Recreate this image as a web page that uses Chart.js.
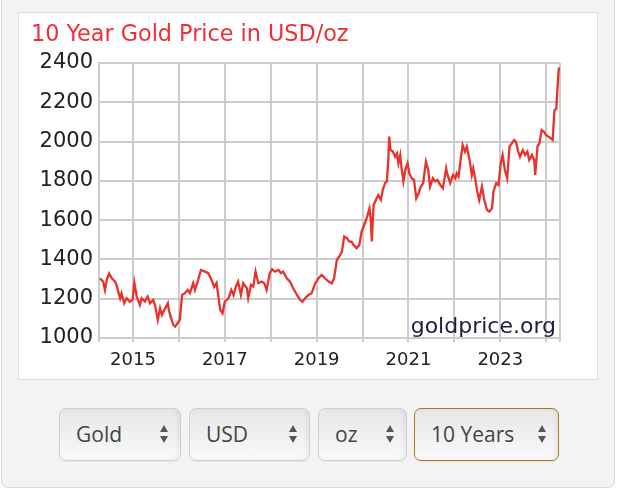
<!DOCTYPE html>
<html>
<head>
<meta charset="utf-8">
<script src="https://cdn.jsdelivr.net/npm/chart.js@4.4.1/dist/chart.umd.min.js"></script>
<style>
  html, body { margin: 0; padding: 0; background: #fff; width: 638px; height: 499px; overflow: hidden; }
  #outer { position: absolute; left: 1px; top: -6px; width: 612px; height: 492px; background: #f3f3f3;
           border: 1px solid #dcdcdc; border-radius: 0 0 6px 6px; }
  #panel { position: absolute; left: 18px; top: 12px; width: 578px; height: 366px; background: #fff;
           border: 1px solid #dddddd; }
  #panel canvas { position: absolute; left: 0; top: 0; }
  .sel { position: absolute; top: 408px; height: 53px; box-sizing: border-box; border: 1px solid #d0d0d0;
         border-radius: 7px; background: linear-gradient(to bottom, #e7e7e7, #f9f9f9);
         box-shadow: inset -3px 0 4px rgba(0,0,0,0.05), 0 1px 1px rgba(0,0,0,0.05);
         font: 21px "Open Sans", sans-serif; color: #444; line-height: 50px; padding-left: 16px; }
  .sel::before, .sel::after { content: ""; position: absolute; right: 12px; width: 0; height: 0;
         border-left: 4.5px solid transparent; border-right: 4.5px solid transparent; }
  .sel::before { top: 16px; border-bottom: 7px solid #555; }
  .sel::after { top: 27px; border-top: 7px solid #555; }
  .sel.on { border-color: #a97b1c; }
</style>
</head>
<body>
<div id="outer"></div>
<div id="panel"><canvas id="goldChart" width="578" height="366"></canvas></div>
<div class="sel" style="left:59px;width:122px">Gold</div>
<div class="sel" style="left:189px;width:121px">USD</div>
<div class="sel" style="left:318px;width:89px">oz</div>
<div class="sel on" style="left:414px;width:145px">10 Years</div>
<script>
// decimal years and USD/oz prices
var years = [
  2014.28, 2014.35, 2014.39, 2014.43, 2014.48, 2014.54, 2014.61, 2014.64, 2014.72, 2014.75,
  2014.81, 2014.86, 2014.93, 2014.99, 2015.03, 2015.08, 2015.15, 2015.19, 2015.26, 2015.32,
  2015.37, 2015.44, 2015.48, 2015.54, 2015.59, 2015.63, 2015.70, 2015.76, 2015.78, 2015.83,
  2015.88, 2015.92, 2015.97, 2016.02, 2016.07, 2016.13, 2016.19, 2016.24, 2016.31, 2016.35,
  2016.42, 2016.48, 2016.57, 2016.64, 2016.71, 2016.77, 2016.82, 2016.85, 2016.90, 2016.95,
  2017.00, 2017.08, 2017.14, 2017.19, 2017.24, 2017.29, 2017.35, 2017.40, 2017.48, 2017.51,
  2017.57, 2017.62, 2017.67, 2017.73, 2017.80, 2017.86, 2017.91, 2017.98, 2018.03, 2018.09,
  2018.17, 2018.22, 2018.27, 2018.35, 2018.42, 2018.49, 2018.57, 2018.64, 2018.69, 2018.75,
  2018.82, 2018.89, 2018.97, 2019.04, 2019.11, 2019.18, 2019.26, 2019.33, 2019.38, 2019.44,
  2019.49, 2019.55, 2019.60, 2019.66, 2019.71, 2019.76, 2019.80, 2019.87, 2019.93, 2019.98,
  2020.05, 2020.10, 2020.15, 2020.18, 2020.20, 2020.24, 2020.29, 2020.34, 2020.40, 2020.44,
  2020.49, 2020.53, 2020.56, 2020.58, 2020.61, 2020.66, 2020.71, 2020.75, 2020.78, 2020.82,
  2020.85, 2020.89, 2020.93, 2020.98, 2021.02, 2021.07, 2021.12, 2021.17, 2021.22, 2021.27,
  2021.32, 2021.38, 2021.43, 2021.47, 2021.53, 2021.58, 2021.63, 2021.69, 2021.75, 2021.82,
  2021.85, 2021.91, 2021.97, 2022.02, 2022.05, 2022.09, 2022.14, 2022.18, 2022.23, 2022.27,
  2022.33, 2022.38, 2022.41, 2022.45, 2022.50, 2022.54, 2022.60, 2022.65, 2022.71, 2022.76,
  2022.82, 2022.85, 2022.91, 2022.96, 2023.01, 2023.05, 2023.10, 2023.15, 2023.20, 2023.25,
  2023.30, 2023.34, 2023.39, 2023.43, 2023.49, 2023.54, 2023.59, 2023.63, 2023.69, 2023.74,
  2023.76, 2023.81, 2023.85, 2023.90, 2023.95, 2024.00, 2024.05, 2024.10, 2024.14, 2024.18,
  2024.22, 2024.24, 2024.27, 2024.29
];
var prices = [
  1304, 1287, 1244, 1297, 1329, 1304, 1287, 1270, 1202, 1228,
  1177, 1202, 1185, 1194, 1281, 1211, 1168, 1202, 1185, 1211,
  1177, 1194, 1168, 1092, 1151, 1117, 1151, 1177, 1143, 1100,
  1066, 1058, 1075, 1092, 1219, 1228, 1245, 1228, 1279, 1245,
  1296, 1346, 1338, 1330, 1296, 1260, 1280, 1228, 1143, 1126,
  1185, 1202, 1245, 1219, 1262, 1287, 1219, 1279, 1253, 1202,
  1270, 1262, 1338, 1279, 1287, 1279, 1245, 1330, 1350, 1338,
  1347, 1330, 1338, 1304, 1287, 1253, 1219, 1194, 1185, 1202,
  1219, 1228, 1279, 1304, 1321, 1304, 1287, 1278, 1304, 1397,
  1414, 1440, 1516, 1508, 1491, 1491, 1474, 1457, 1474, 1542,
  1584, 1618, 1660, 1601, 1491, 1677, 1703, 1728, 1703, 1754,
  1788, 1797, 1906, 2025, 1957, 1949, 1923, 1940, 1889, 1932,
  1864, 1797, 1855, 1889, 1838, 1813, 1805, 1711, 1737, 1771,
  1788, 1898, 1855, 1771, 1813, 1797, 1805, 1780, 1762, 1864,
  1830, 1788, 1830, 1813, 1839, 1822, 1915, 1982, 1949, 1974,
  1906, 1830, 1864, 1813, 1745, 1703, 1771, 1703, 1652, 1643,
  1660, 1745, 1788, 1779, 1890, 1932, 1855, 1813, 1974, 1991,
  2008, 2000, 1949, 1923, 1957, 1932, 1949, 1906, 1932, 1906,
  1830, 1974, 1991, 2059, 2050, 2033, 2025, 2016, 2008, 2160,
  2168, 2253, 2364, 2378
];
var gridYears = [2015, 2016, 2017, 2018, 2019, 2020, 2021, 2022, 2023, 2024];
var xMin = 2014.26, xMax = 2024.30;

var points = years.map(function (y, i) { return { x: y, y: prices[i] }; });

var watermark = {
  id: 'watermark',
  afterDraw: function (chart) {
    var ctx = chart.ctx;
    ctx.save();
    ctx.font = '22.3px "DejaVu Sans"';
    ctx.fillStyle = '#ee2f36';
    ctx.textAlign = 'left';
    ctx.textBaseline = 'alphabetic';
    ctx.fillText('10 Year Gold Price in USD/oz', 12, 28);
    ctx.font = '22px "DejaVu Sans"';
    ctx.fillStyle = '#1d1d3f';
    ctx.textAlign = 'right';
    ctx.fillText('goldprice.org', chart.chartArea.right - 4, chart.chartArea.bottom - 5);
    ctx.restore();
  }
};

var gridColor = '#cccccc';
new Chart(document.getElementById('goldChart').getContext('2d'), {
  type: 'line',
  data: {
    datasets: [{
      data: points,
      borderColor: '#e8322c',
      borderWidth: 2.3,
      pointRadius: 0,
      tension: 0
    }]
  },
  options: {
    responsive: false,
    animation: false,
    layout: { padding: { left: 0, top: 50, right: 37, bottom: 0 } },
    plugins: { legend: { display: false }, tooltip: { enabled: false } },
    scales: {
      x: {
        type: 'linear',
        min: xMin,
        max: xMax,
        afterBuildTicks: function (ax) {
          ax.ticks = [xMin].concat(gridYears, [xMax]).map(function (v) { return { value: v }; });
        },
        afterFit: function (ax) { ax.height = 41; },
        grid: { color: gridColor, lineWidth: 2, tickLength: 4 },
        border: { color: gridColor, width: 2 },
        ticks: {
          autoSkip: false,
          maxRotation: 0,
          padding: 8,
          color: '#222',
          font: { family: 'DejaVu Sans', size: 18 },
          callback: function (v) { return (Number.isInteger(v) && v % 2 === 1) ? String(v) : ''; }
        }
      },
      y: {
        min: 1000,
        max: 2400,
        afterFit: function (ax) { ax.width = 80; },
        grid: { color: gridColor, lineWidth: 2, drawTicks: false },
        border: { color: gridColor, width: 2 },
        ticks: {
          stepSize: 200,
          padding: 6,
          color: '#222',
          font: { family: 'DejaVu Sans', size: 21 },
          callback: function (v) { return String(v); }
        }
      }
    }
  },
  plugins: [watermark]
});
</script>
</body>
</html>
